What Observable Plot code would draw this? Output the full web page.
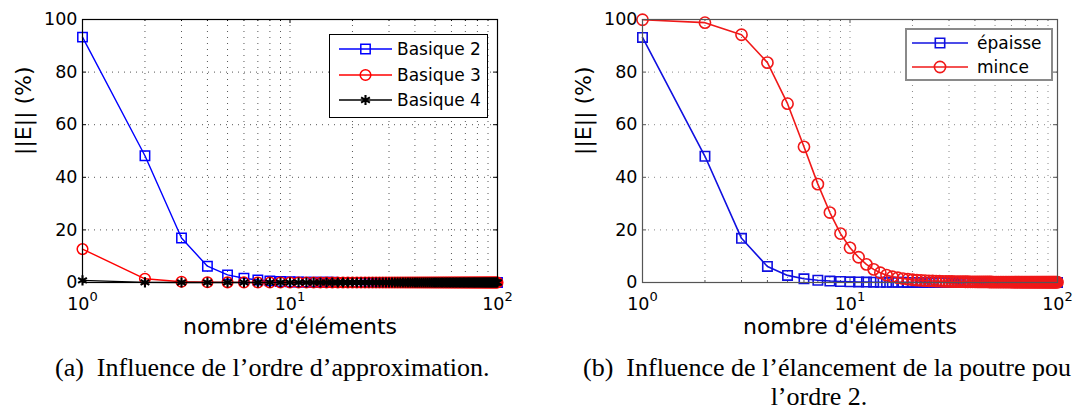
<!DOCTYPE html>
<html><head><meta charset="utf-8">
<script src="https://cdn.jsdelivr.net/npm/d3@7"></script>
<script src="https://cdn.jsdelivr.net/npm/@observablehq/plot@0.6"></script>
<style>
html,body{margin:0;padding:0;background:#fff;}
body{width:1075px;height:412px;overflow:hidden;position:relative;font-family:"DejaVu Sans",sans-serif;color:#000;}
.chart{position:absolute;top:0;}
.legend{position:absolute;background:#fff;box-sizing:border-box;font-family:"DejaVu Sans",sans-serif;font-size:17px;}
.legend .row{position:absolute;left:0;height:24px;display:flex;align-items:center;white-space:nowrap;}
.legend svg{display:block;}
.cap{position:absolute;font-family:"Liberation Serif","Times New Roman",serif;font-size:26px;line-height:28px;white-space:nowrap;color:#000;}
</style></head><body>
<div id="chartA" class="chart" style="left:0px"></div>
<div id="chartB" class="chart" style="left:560px"></div>
<div id="legA" class="legend" style="left:329px;top:34px;width:159px;height:84px;border:1.5px solid #000;"></div>
<div id="legB" class="legend" style="left:905px;top:28px;width:148px;height:53px;border:2px solid #8a8a8a;"></div>
<div class="cap" style="left:55px;top:354px;">(a)&nbsp; Influence de l’ordre d’approximation.</div>
<div class="cap" style="left:583px;top:354px;">(b)&nbsp; Influence de l’élancement de la poutre pou</div>
<div class="cap" style="left:719px;top:383px;width:200px;text-align:center;">l’ordre 2.</div>
<script>
// ---------- data ----------
const elements = [1,2,3,4,5,6,7,8,9,10,11,12,13,14,15,16,17,18,19,20,
21,22,23,24,25,26,27,28,29,30,31,32,33,34,35,36,37,38,39,40,
41,42,43,44,45,46,47,48,49,50,51,52,53,54,55,56,57,58,59,60,
61,62,63,64,65,66,67,68,69,70,71,72,73,74,75,76,77,78,79,80,
81,82,83,84,85,86,87,88,89,90,91,92,93,94,95,96,97,98,99,100];

const basique2 = [93.3,48.2,16.9,6.2,2.9,1.6,0.95,0.6,0.4,0.28,
0.21,0.16,0.12,0.1,0.08,0.07,0.06,0.05,0.045,0.04,
0.036,0.033,0.03,0.028,0.026,0.024,0.022,0.021,0.02,0.019,
0.018,0.017,0.016,0.016,0.015,0.015,0.014,0.014,0.013,0.013,
0.012,0.012,0.012,0.012,0.012,0.012,0.012,0.012,0.012,0.012,
0.011,0.011,0.011,0.011,0.011,0.011,0.011,0.011,0.011,0.011,
0.01,0.01,0.01,0.01,0.01,0.01,0.01,0.01,0.01,0.01,
0.01,0.01,0.01,0.01,0.01,0.01,0.01,0.01,0.01,0.01,
0.009,0.009,0.009,0.009,0.009,0.009,0.009,0.009,0.009,0.009,
0.009,0.009,0.009,0.009,0.009,0.009,0.009,0.009,0.009,0.009];

const basique3 = [12.7,1.4,0.3,0.1,0.05,0.03,0.02,0.015,0.01,0.008,
0.006,0.006,0.005,0.005,0.005,0.004,0.004,0.004,0.004,0.004,
0.003,0.003,0.003,0.003,0.003,0.003,0.003,0.003,0.003,0.003,
0.002,0.002,0.002,0.002,0.002,0.002,0.002,0.002,0.002,0.002,
0.002,0.002,0.002,0.002,0.002,0.002,0.002,0.002,0.002,0.002,
0.001,0.001,0.001,0.001,0.001,0.001,0.001,0.001,0.001,0.001,
0.001,0.001,0.001,0.001,0.001,0.001,0.001,0.001,0.001,0.001,
0.001,0.001,0.001,0.001,0.001,0.001,0.001,0.001,0.001,0.001,
0.001,0.001,0.001,0.001,0.001,0.001,0.001,0.001,0.001,0.001,
0.001,0.001,0.001,0.001,0.001,0.001,0.001,0.001,0.001,0.001];

const basique4 = [0.8,0.03,0.01,0.005,0.003,0.002,0.001,0.001,0.001,0.001,
0,0,0,0,0,0,0,0,0,0, 0,0,0,0,0,0,0,0,0,0, 0,0,0,0,0,0,0,0,0,0,
0,0,0,0,0,0,0,0,0,0, 0,0,0,0,0,0,0,0,0,0, 0,0,0,0,0,0,0,0,0,0,
0,0,0,0,0,0,0,0,0,0, 0,0,0,0,0,0,0,0,0,0, 0,0,0,0,0,0,0,0,0,0];

const epaisse = [93.2,48.0,16.8,6.1,2.7,1.4,0.85,0.55,0.38,0.27,
0.2,0.15,0.12,0.1,0.08,0.07,0.06,0.05,0.045,0.04,
0.036,0.033,0.03,0.028,0.026,0.024,0.022,0.021,0.02,0.019,
0.018,0.017,0.016,0.016,0.015,0.015,0.014,0.014,0.013,0.013,
0.012,0.012,0.012,0.012,0.012,0.012,0.012,0.012,0.012,0.012,
0.011,0.011,0.011,0.011,0.011,0.011,0.011,0.011,0.011,0.011,
0.01,0.01,0.01,0.01,0.01,0.01,0.01,0.01,0.01,0.01,
0.01,0.01,0.01,0.01,0.01,0.01,0.01,0.01,0.01,0.01,
0.009,0.009,0.009,0.009,0.009,0.009,0.009,0.009,0.009,0.009,
0.009,0.009,0.009,0.009,0.009,0.009,0.009,0.009,0.009,0.009];

const mince = [99.9,98.8,94.2,83.6,68.0,51.6,37.4,26.6,18.6,13.2,
9.6,6.9,5.0,3.7,2.8,2.2,1.8,1.5,1.25,1.05,
0.9,0.8,0.72,0.65,0.59,0.54,0.5,0.46,0.43,0.4,
0.38,0.36,0.34,0.32,0.31,0.29,0.28,0.27,0.26,0.25,
0.24,0.23,0.22,0.21,0.21,0.2,0.19,0.19,0.18,0.18,
0.17,0.17,0.17,0.17,0.17,0.16,0.16,0.16,0.16,0.16,
0.15,0.15,0.15,0.15,0.15,0.14,0.14,0.14,0.14,0.14,
0.14,0.14,0.14,0.14,0.14,0.13,0.13,0.13,0.13,0.13,
0.13,0.13,0.13,0.13,0.13,0.12,0.12,0.12,0.12,0.12,
0.12,0.12,0.12,0.12,0.12,0.11,0.11,0.11,0.11,0.11];

const xTicks = [1, 10, 100];
const xExponents = ["0", "1", "2"];
const xMinor = [2,3,4,5,6,7,8,9,20,30,40,50,60,70,80,90];
const yTicks = [0, 20, 40, 60, 80, 100];
const xLabel = "nombre d'éléments";
const yLabel = "||E|| (%)";

const namesA = ["Basique 2", "Basique 3", "Basique 4"];
const namesB = ["épaisse", "mince"];

// ---------- chart builder ----------
const W = 515, H = 345, ML = 82, MR = 18, MT = 19, MB = 63;
const PW = W - ML - MR, PH = H - MT - MB;

function buildChart(series, opt) {
  const marks = [];
  // grid
  marks.push(Plot.ruleY(yTicks.slice(1, -1), {y: d => d, stroke: opt.grid, strokeWidth: 1, strokeDasharray: "1,5"}));
  marks.push(Plot.ruleX(xMinor.concat([10]), {x: d => d, stroke: opt.grid, strokeWidth: 1, strokeDasharray: "1,5"}));
  // inner ticks
  marks.push(Plot.tickX(xTicks, {x: d => d, insetTop: PH - 4, stroke: opt.frame}));
  marks.push(Plot.tickX(xTicks, {x: d => d, insetBottom: PH - 4, stroke: opt.frame}));
  marks.push(Plot.tickX(xMinor, {x: d => d, insetTop: PH - 2, stroke: opt.frame}));
  marks.push(Plot.tickX(xMinor, {x: d => d, insetBottom: PH - 2, stroke: opt.frame}));
  marks.push(Plot.tickY(yTicks, {y: d => d, insetRight: PW - 4, stroke: opt.frame}));
  marks.push(Plot.tickY(yTicks, {y: d => d, insetLeft: PW - 4, stroke: opt.frame}));
  // series
  for (const s of series) {
    const rows = elements.map((n, i) => ({n, v: s.values[i]}));
    marks.push(Plot.line(rows, {x: "n", y: "v", stroke: s.color, strokeWidth: opt.lw}));
    marks.push(Plot.dot(rows, {x: "n", y: "v", symbol: s.symbol, r: s.r, stroke: s.color, fill: "none", strokeWidth: s.mw}));
  }
  marks.push(Plot.frame({stroke: opt.frame, strokeWidth: 1.2}));
  marks.push(Plot.axisX({ticks: xTicks, tickSize: 0, tickPadding: 15, fontSize: 17.5, label: null,
    tickFormat: d => "10^" + xExponents[xTicks.indexOf(d)]}));
  marks.push(Plot.axisY({ticks: yTicks, tickSize: 0, tickPadding: 5, fontSize: 17.5, label: null}));
  marks.push(Plot.text([xLabel], {text: d => d, frameAnchor: "bottom", dy: 51, fontSize: 22}));
  marks.push(Plot.text([yLabel], {text: d => d, frameAnchor: "left", rotate: -90, dx: -59, dy: 4, fontSize: 22}));

  const svg = Plot.plot({
    width: W, height: H,
    marginLeft: ML, marginRight: MR, marginTop: MT, marginBottom: MB,
    x: {type: "log", domain: [1, 100]},
    y: {domain: [0, 100]},
    style: {fontFamily: "DejaVu Sans, sans-serif", color: "#000", background: "transparent", overflow: "visible"},
    marks
  });
  // superscript exponents on the log-axis tick labels
  d3.select(svg).selectAll('g[aria-label="x-axis tick label"] text').each(function() {
    const parts = this.textContent.split("^");
    if (parts.length === 2) {
      const t = d3.select(this);
      t.text(parts[0]);
      t.append("tspan").attr("dy", "-9").attr("font-size", "13px").text(parts[1]);
    }
  });
  return svg;
}

const seriesA = [
  {name: namesA[0], values: basique2, color: "#0000ff", symbol: "square", r: 5.3, mw: 1.5},
  {name: namesA[1], values: basique3, color: "#ff0000", symbol: "circle", r: 5.3, mw: 1.5},
  {name: namesA[2], values: basique4, color: "#000000", symbol: "asterisk", r: 4.8, mw: 2.1}
];
const seriesB = [
  {name: namesB[0], values: epaisse, color: "#1010e0", symbol: "square", r: 5.3, mw: 1.6},
  {name: namesB[1], values: mince, color: "#f01818", symbol: "circle", r: 5.6, mw: 1.6}
];

document.getElementById("chartA").appendChild(buildChart(seriesA, {grid: "#555", frame: "#000", lw: 1.4}));
document.getElementById("chartB").appendChild(buildChart(seriesB, {grid: "#888", frame: "#555", lw: 1.6}));

// ---------- legends ----------
function buildLegend(el, series, o) {
  series.forEach((s, i) => {
    const row = d3.select(el).append("div").attr("class", "row")
      .style("top", (o.top + i * o.step - 12) + "px");
    const sv = row.append("svg").attr("width", o.textX).attr("height", 24);
    sv.append("line").attr("x1", o.x1).attr("x2", o.x2).attr("y1", 12).attr("y2", 12)
      .attr("stroke", s.color).attr("stroke-width", o.lw);
    const sym = {square: d3.symbolSquare, circle: d3.symbolCircle, asterisk: d3.symbolAsterisk}[s.symbol];
    sv.append("path").attr("d", d3.symbol(sym, Math.PI * s.r * s.r)())
      .attr("transform", `translate(${(o.x1 + o.x2) / 2},12)`)
      .attr("fill", "none").attr("stroke", s.color).attr("stroke-width", s.mw);
    row.append("span").text(s.name);
  });
}
buildLegend(document.getElementById("legA"), seriesA, {top: 14, step: 25.5, x1: 9, x2: 62, textX: 67, lw: 1.5});
buildLegend(document.getElementById("legB"), seriesB, {top: 13, step: 24, x1: 5, x2: 61, textX: 70, lw: 1.6});
</script>
</body></html>
